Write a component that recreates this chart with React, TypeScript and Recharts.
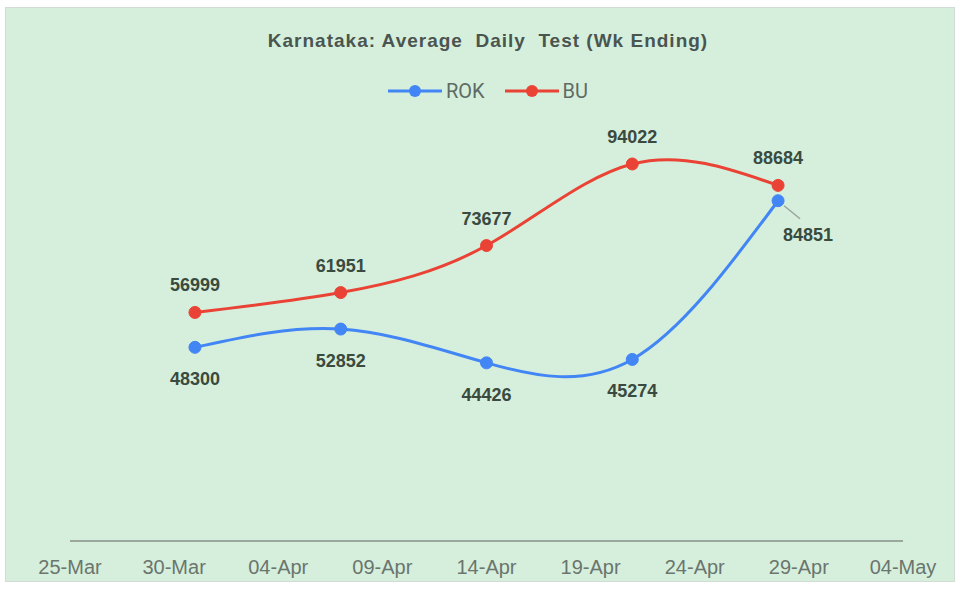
import { LineChart, Line, XAxis, YAxis } from "recharts";

// days counted from 25-Mar
const weekEnding = [6, 13, 20, 27, 34];
const rok = [48300, 52852, 44426, 45274, 84851];
const bu = [56999, 61951, 73677, 94022, 88684];
const tickDays = [0, 5, 10, 15, 20, 25, 30, 35, 40];
const tickLabels = ["25-Mar", "30-Mar", "04-Apr", "09-Apr", "14-Apr", "19-Apr", "24-Apr", "29-Apr", "04-May"];

const data = weekEnding.map((d, i) => ({ day: d, rok: rok[i], bu: bu[i] }));

const BLUE = "#4285f4";
const RED = "#ea4335";
const font = "'Liberation Sans', Arial, sans-serif";
const legendFont = "Roboto, 'Liberation Sans', sans-serif";

function RokLabel(props: any) {
  const { x, y, value, index } = props;
  if (index === rok.length - 1) {
    return (
      <g>
        <line x1={x + 6} y1={y + 5} x2={x + 22} y2={y + 18} stroke="#9aa39c" strokeWidth={1.5} />
        <text x={x + 30} y={y + 40} textAnchor="middle" fontFamily={font} fontSize={18} fontWeight="bold" fill="#3a4a3f">
          {value}
        </text>
      </g>
    );
  }
  return (
    <text x={x} y={y + 38} textAnchor="middle" fontFamily={font} fontSize={18} fontWeight="bold" fill="#3a4a3f">
      {value}
    </text>
  );
}

function BuLabel(props: any) {
  const { x, y, value } = props;
  return (
    <text x={x} y={y - 21} textAnchor="middle" fontFamily={font} fontSize={18} fontWeight="bold" fill="#3a4a3f">
      {value}
    </text>
  );
}

function Tick(props: any) {
  const { x, y, payload } = props;
  const i = tickDays.indexOf(payload.value);
  return (
    <text x={x} y={y + 25} textAnchor="middle" fontFamily={font} fontSize={20} fill="#6b756e">
      {tickLabels[i]}
    </text>
  );
}

function LegendBox() {
  const items = [
    { name: "ROK", color: BLUE },
    { name: "BU", color: RED },
  ];
  return (
    <div style={{ display: "flex", justifyContent: "center", gap: 20, fontFamily: legendFont, fontSize: 20, color: "#5f6b63" }}>
      {items.map((it) => (
        <div key={it.name} style={{ display: "flex", alignItems: "center", gap: 4 }}>
          <svg width={54} height={14}>
            <line x1={0} y1={7} x2={54} y2={7} stroke={it.color} strokeWidth={3} />
            <circle cx={27} cy={7} r={6} fill={it.color} />
          </svg>
          <span>{it.name}</span>
        </div>
      ))}
    </div>
  );
}

export default function App() {
  return (
    <div style={{ position: "absolute", left: 0, top: 0, width: 958, height: 589, background: "#ffffff" }}>
      <div
        style={{
          position: "absolute",
          left: 5,
          top: 7,
          width: 948,
          height: 573,
          background: "#d5efdc",
          border: "1px solid #d2dcd4",
        }}
      />
      <div
        style={{
          position: "absolute",
          left: 0,
          top: 30,
          width: 976,
          textAlign: "center",
          fontFamily: font,
          fontWeight: "bold",
          fontSize: 19,
          letterSpacing: 1,
          color: "#4a5550",
          whiteSpace: "pre",
        }}
      >
        {"Karnataka: Average  Daily  Test (Wk Ending)"}
      </div>
      <div style={{ position: "absolute", left: 0, top: 79, width: 976 }}>
        <LegendBox />
      </div>
      <div style={{ position: "absolute", left: 0, top: 0 }}>
        <LineChart width={958} height={589} data={data} margin={{ top: 140, right: 55, bottom: 0, left: 70 }}>
          <XAxis
            dataKey="day"
            type="number"
            domain={[0, 40]}
            ticks={tickDays}
            interval={0}
            height={48}
            tickLine={false}
            axisLine={{ stroke: "#9aa89d", strokeWidth: 2 }}
            tick={<Tick />}
          />
          <YAxis type="number" domain={[0, 100000]} hide width={0} />
          <Line
            type="natural"
            dataKey="rok"
            name="ROK"
            stroke={BLUE}
            strokeWidth={3}
            dot={{ r: 6, fill: BLUE, stroke: BLUE, strokeWidth: 1 }}
            label={<RokLabel />}
            isAnimationActive={false}
          />
          <Line
            type="natural"
            dataKey="bu"
            name="BU"
            stroke={RED}
            strokeWidth={3}
            dot={{ r: 6, fill: RED, stroke: RED, strokeWidth: 1 }}
            label={<BuLabel />}
            isAnimationActive={false}
          />
        </LineChart>
      </div>
    </div>
  );
}
